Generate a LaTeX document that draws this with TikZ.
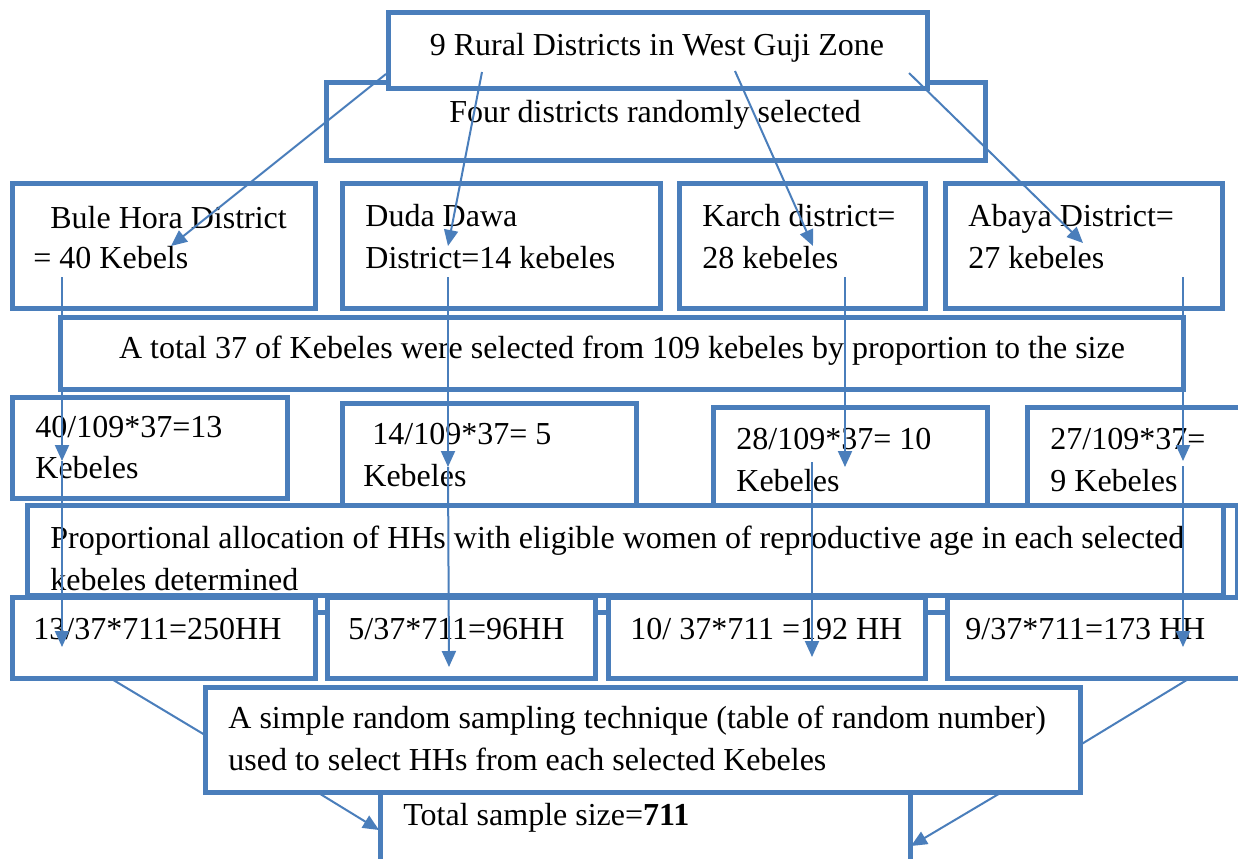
\documentclass[tikz,border=0pt]{standalone}
\usepackage{fontspec}
\setmainfont{Liberation Serif}
\usetikzlibrary{arrows.meta,fit}
\definecolor{bl}{RGB}{74,126,187}
\tikzset{
  box/.style={draw=bl, line width=2.5pt, fill=white, inner sep=0pt, rectangle},
  txt/.style={font=\fontsize{16}{20}\selectfont, inner sep=0pt, text=black},
  arr/.style={draw=bl, line width=1pt, -{Triangle[length=8pt,width=7pt]}},
  lnk/.style={draw=bl, line width=1pt},
  stub/.style={draw=bl, line width=2.5pt}
}
\begin{document}
\begin{tikzpicture}[x=0.5pt,y={(0pt,-0.5pt)}]
\useasboundingbox (0,0) rectangle (1238,858);
\fill[white] (0,0) rectangle (1238,858);
\clip (0,0) rectangle (1238,858);
% boxes
\node[box, fit={(326,82) (985,160)}] (B) {};
\node[box, fit={(388,12) (927,88)}] (A) {};
\node[box, fit={(12,183) (315,308)}] (C1) {};
\node[box, fit={(342,183) (660,308)}] (C2) {};
\node[box, fit={(679,183) (925,308)}] (C3) {};
\node[box, fit={(945,183) (1222,308)}] (C4) {};
\node[box, fit={(60,317) (1183,389)}] (D) {};
\node[box, fit={(12,397) (287,498)}] (E1) {};
\node[box, fit={(342,403) (636,506)}] (E2) {};
\node[box, fit={(713,407) (987,505)}] (E3) {};
\node[box, fit={(1027,407) (1260,505)}] (E4) {};
\node[box, fit={(27,505) (1223,595)}] (F) {};
\node[box, fit={(1237,505) (1290,597)}] (F2) {};
\node[box, fit={(12,597) (315,678)}] (G1) {};
\node[box, fit={(327,597) (595,678)}] (G2) {};
\node[box, fit={(608,597) (925,678)}] (G3) {};
\node[box, fit={(947,597) (1270,678)}] (G4) {};
\node[box, fit={(380,780) (910,900)}] (I) {};
\node[box, fit={(205,687) (1080,792)}] (H) {};
% stubs between bottom boxes
\draw[stub] (G1.east |- 0,612) -- (G2.west |- 0,612);
\draw[stub] (G2.east |- 0,612) -- (G3.west |- 0,612);
\draw[stub] (G3.east |- 0,612) -- (G4.west |- 0,612);
% texts
\node[txt, anchor=base] (tA) at (657,55) {9 Rural Districts in West Guji Zone};
\node[txt, anchor=base] (tB) at (655,122) {Four districts randomly selected};
\node[txt, anchor=base west] (tC1a) at (50,228) {Bule Hora District};
\node[txt, anchor=base west] (tC1b) at (33,268) {= 40 Kebels};
\node[txt, anchor=base west] (tC2a) at (365,226) {Duda Dawa};
\node[txt, anchor=base west] (tC2b) at (365,268) {District=14 kebeles};
\node[txt, anchor=base west] (tC3a) at (702,226) {Karch district=};
\node[txt, anchor=base west] (tC3b) at (702,268) {28 kebeles};
\node[txt, anchor=base west] (tC4a) at (968,226) {Abaya District=};
\node[txt, anchor=base west] (tC4b) at (968,268) {27 kebeles};
\node[txt, anchor=base] (tD) at (622,358) {A total 37 of Kebeles were selected from 109 kebeles by proportion to the size};
\node[txt, anchor=base west] (tE1a) at (35,437) {40/109*37=13};
\node[txt, anchor=base west] (tE1b) at (35,478) {Kebeles};
\node[txt, anchor=base west] (tE2a) at (372,444) {14/109*37= 5};
\node[txt, anchor=base west] (tE2b) at (363,486) {Kebeles};
\node[txt, anchor=base west] (tE3a) at (736,449) {28/109*37= 10};
\node[txt, anchor=base west] (tE3b) at (736,491) {Kebeles};
\node[txt, anchor=base west] (tE4a) at (1050,449) {27/109*37=};
\node[txt, anchor=base west] (tE4b) at (1050,491) {9 Kebeles};
\node[txt, anchor=base west] (tFa) at (50,548) {Proportional allocation of HHs with eligible women of reproductive age in each selected};
\node[txt, anchor=base west] (tFb) at (50,590) {kebeles determined};
\node[txt, anchor=base west] (tG1) at (33,639) {13/37*711=250HH};
\node[txt, anchor=base west] (tG2) at (348,639) {5/37*711=96HH};
\node[txt, anchor=base west] (tG3) at (630,639) {10/ 37*711 =192 HH};
\node[txt, anchor=base west] (tG4) at (965,639) {9/37*711=173 HH};
\node[txt, anchor=base west] (tHa) at (228,728) {A simple random sampling technique (table of random number)};
\node[txt, anchor=base west] (tHb) at (228,770) {used to select HHs from each selected Kebeles};
\node[txt, anchor=base west] (tI) at (403,825) {Total sample size=\textbf{711}};
% connector coordinates
\coordinate (s1) at (386,74);  \coordinate (e1) at (171,246);
\coordinate (s2) at (482,72);  \coordinate (e2) at (448,246);
\coordinate (s3) at (735,71);  \coordinate (e3) at (813,246);
\coordinate (s4) at (909,73);  \coordinate (e4) at (1083,243);
\coordinate (v1a) at (62,277); \coordinate (v1b) at (62,461); \coordinate (v1c) at (62,647);
\coordinate (v2a) at (448,277); \coordinate (v2b) at (448,467); \coordinate (v2c) at (449,667);
\coordinate (v3a) at (845,277); \coordinate (v3b) at (845,467);
\coordinate (v4a) at (812,462); \coordinate (v4b) at (812,657);
\coordinate (v5a) at (1183,277); \coordinate (v5b) at (1183,461);
\coordinate (v5c) at (1183,466); \coordinate (v5d) at (1183,647);
\coordinate (dl1) at (110,678); \coordinate (dl2) at (205,735);
\coordinate (dr1) at (1190,678); \coordinate (dr2) at (1080,745);
\coordinate (bl1) at (317,792); \coordinate (bl2) at (379,830);
\coordinate (br1) at (1002,792); \coordinate (br2) at (911,846);
% connectors
\draw[arr] (s1) -- (e1);
\draw[arr] (s2) -- (e2);
\draw[arr] (s3) -- (e3);
\draw[arr] (s4) -- (e4);
\draw[arr] (v1a) -- (v1b);
\draw[arr] (v1b) -- (v1c);
\draw[arr] (v2a) -- (v2b);
\draw[arr] (v2b) -- (v2c);
\draw[arr] (v3a) -- (v3b);
\draw[arr] (v4a) -- (v4b);
\draw[arr] (v5a) -- (v5b);
\draw[arr] (v5c) -- (v5d);
\draw[lnk] (dl1) -- (dl2);
\draw[lnk] (dr1) -- (dr2);
\draw[arr] (bl1) -- (bl2);
\draw[arr] (br1) -- (br2);
\end{tikzpicture}
\end{document}
